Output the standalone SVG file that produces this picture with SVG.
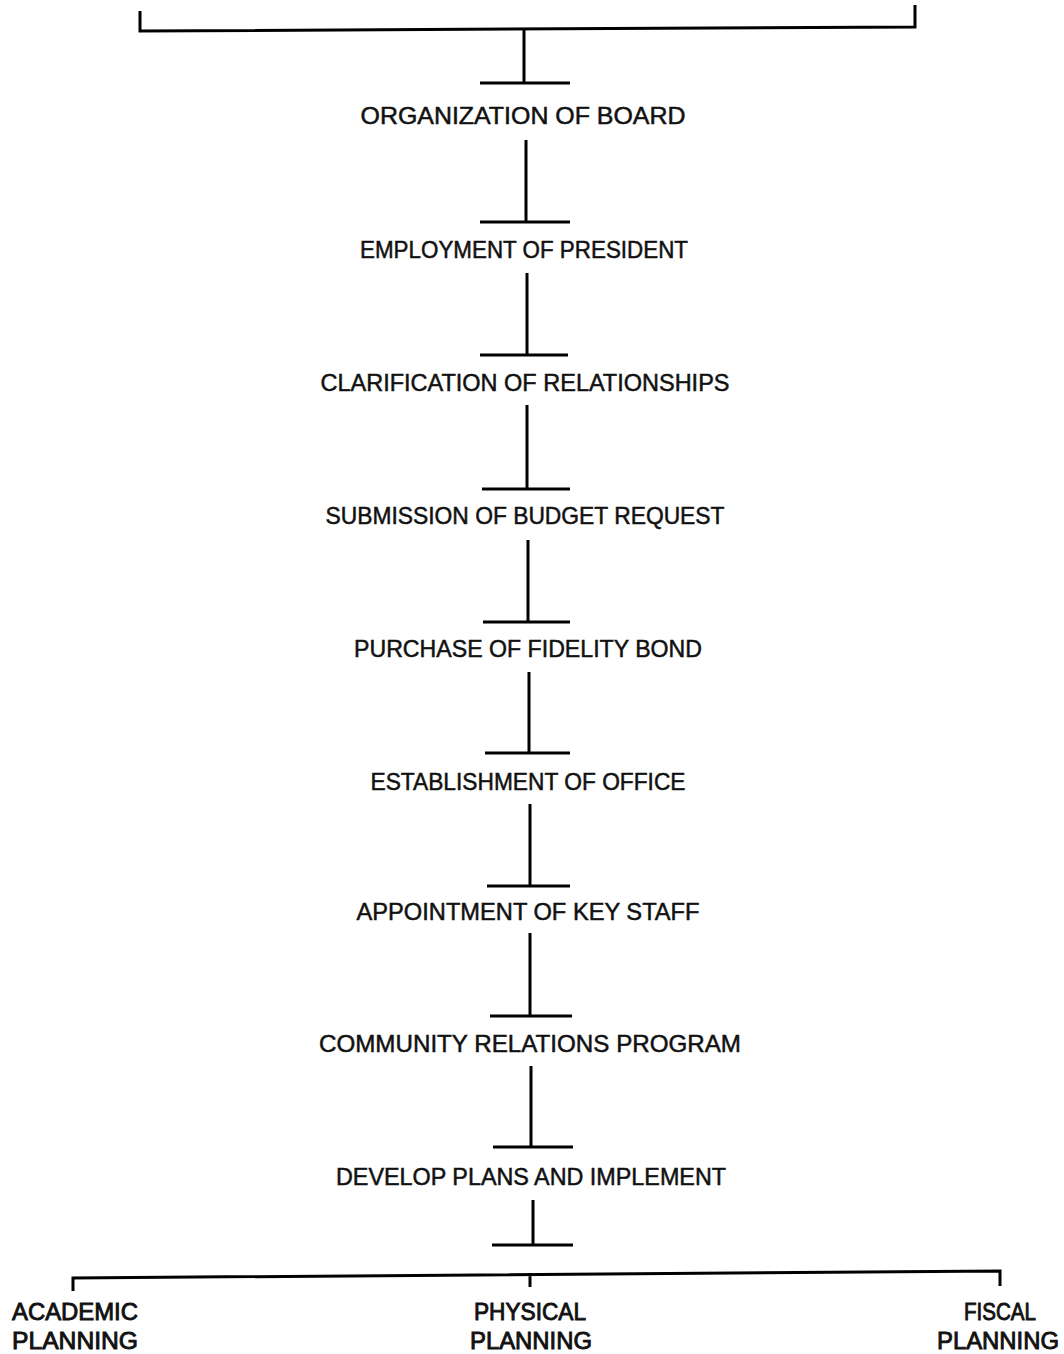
<svg xmlns="http://www.w3.org/2000/svg" width="1064" height="1354" viewBox="0 0 1064 1354">
<style>
.ln{stroke:#000;stroke-width:3;fill:none;stroke-linecap:butt}
.t{font-family:"Liberation Sans",Arial,sans-serif;font-size:24px;fill:#111;stroke:#111;stroke-width:0.5;text-anchor:middle}
.b{font-family:"Liberation Sans",Arial,sans-serif;font-size:24px;fill:#111;stroke:#111;stroke-width:0.9;text-anchor:middle}
</style>
<rect width="1064" height="1354" fill="#fff"/>
<g id="connectors">
<path class="ln" d="M140 11 V31 L915 27 V5"/>
<path class="ln" d="M524 30 V83 M480 83 H570"/>
<path class="ln" d="M526 140 V222 M480 222 H570"/>
<path class="ln" d="M527 273 V355 M480 355 H568"/>
<path class="ln" d="M527 405 V489 M482 489 H570"/>
<path class="ln" d="M528 540 V622 M483 622 H570"/>
<path class="ln" d="M529 672 V753 M485 753 H570"/>
<path class="ln" d="M530 804 V886 M487 886 H570"/>
<path class="ln" d="M530 933 V1016 M490 1016 H572"/>
<path class="ln" d="M531 1066 V1147 M493 1147 H573"/>
<path class="ln" d="M533 1200 V1245 M492 1245 H573"/>
<path class="ln" d="M73 1291 V1278 L1000 1271 V1286 M530 1273 V1287"/>
</g>
<g id="n1"><text class="t" x="523" y="124" textLength="325" lengthAdjust="spacingAndGlyphs">ORGANIZATION OF BOARD</text></g>
<g id="n2"><text class="t" x="524" y="258" textLength="328" lengthAdjust="spacingAndGlyphs">EMPLOYMENT OF PRESIDENT</text></g>
<g id="n3"><text class="t" x="525" y="391" textLength="409" lengthAdjust="spacingAndGlyphs">CLARIFICATION OF RELATIONSHIPS</text></g>
<g id="n4"><text class="t" x="525" y="524" textLength="399" lengthAdjust="spacingAndGlyphs">SUBMISSION OF BUDGET REQUEST</text></g>
<g id="n5"><text class="t" x="528" y="657" textLength="348" lengthAdjust="spacingAndGlyphs">PURCHASE OF FIDELITY BOND</text></g>
<g id="n6"><text class="t" x="528" y="790" textLength="315" lengthAdjust="spacingAndGlyphs">ESTABLISHMENT OF OFFICE</text></g>
<g id="n7"><text class="t" x="528" y="920" textLength="343" lengthAdjust="spacingAndGlyphs">APPOINTMENT OF KEY STAFF</text></g>
<g id="n8"><text class="t" x="530" y="1052" textLength="422" lengthAdjust="spacingAndGlyphs">COMMUNITY RELATIONS PROGRAM</text></g>
<g id="n9"><text class="t" x="531" y="1185" textLength="390" lengthAdjust="spacingAndGlyphs">DEVELOP PLANS AND IMPLEMENT</text></g>
<g id="n10"><text class="b" x="75" y="1320" textLength="126" lengthAdjust="spacingAndGlyphs">ACADEMIC</text><text class="b" x="75" y="1349" textLength="126" lengthAdjust="spacingAndGlyphs">PLANNING</text></g>
<g id="n11"><text class="b" x="530" y="1320" textLength="112" lengthAdjust="spacingAndGlyphs">PHYSICAL</text><text class="b" x="531" y="1349" textLength="122" lengthAdjust="spacingAndGlyphs">PLANNING</text></g>
<g id="n12"><text class="b" x="1000" y="1320" textLength="72" lengthAdjust="spacingAndGlyphs">FISCAL</text><text class="b" x="998" y="1349" textLength="122" lengthAdjust="spacingAndGlyphs">PLANNING</text></g>
</svg>
